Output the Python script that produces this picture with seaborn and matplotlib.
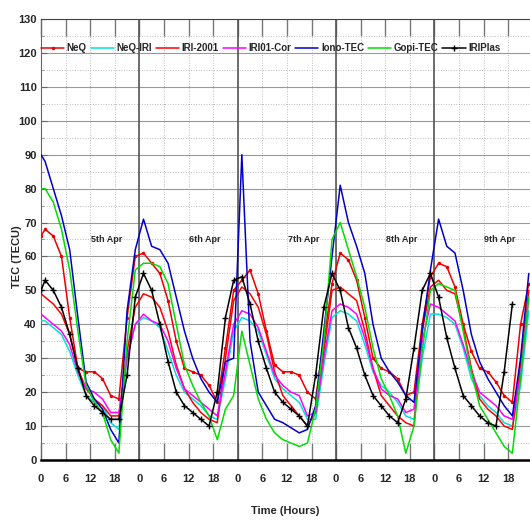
import numpy as np
import pandas as pd
import seaborn as sns
import matplotlib.pyplot as plt
from matplotlib.ticker import MultipleLocator, FixedLocator

# time axis: hour 0 then every odd hour, 5 days (5th - 9th Apr)
hours = [0] + list(range(1, 120, 2))

neq = [66, 68, 66, 60, 42, 27, 26, 26, 24, 19, 18, 42, 60,
       61, 58, 55, 47, 35, 27, 26, 25, 22, 17, 33, 50,
       53, 56, 49, 38, 28, 26, 26, 25, 20, 18, 35, 52,
       61, 59, 53, 42, 30, 27, 26, 24, 19, 20, 40, 54,
       58, 57, 51, 40, 32, 27, 26, 23, 19, 17, 40, 52]
neq_iri = [41, 41, 39, 37, 32, 25, 19, 17, 16, 11, 9, 30, 40,
           42, 41, 39, 32, 25, 20, 18, 16, 13, 12, 24, 38,
           42, 41, 38, 31, 24, 21, 19, 17, 12, 12, 28, 42,
           44, 43, 41, 34, 26, 22, 20, 17, 13, 12, 30, 43,
           43, 42, 40, 33, 24, 19, 16, 14, 11, 10, 22, 44]
iri_2001 = [49, 48, 46, 43, 37, 27, 21, 18, 16, 13, 13, 32, 45,
            49, 48, 45, 38, 28, 21, 17, 14, 12, 11, 30, 47,
            51, 49, 45, 37, 26, 19, 16, 13, 10, 14, 32, 50,
            51, 49, 47, 38, 27, 19, 16, 13, 11, 10, 38, 51,
            53, 50, 49, 39, 27, 18, 15, 13, 10, 9, 28, 50]
iri01_cor = [43, 42, 40, 38, 34, 26, 21, 20, 18, 14, 14, 30, 40,
             43, 41, 40, 35, 27, 21, 19, 17, 15, 13, 26, 40,
             44, 43, 39, 32, 25, 22, 20, 19, 13, 14, 30, 44,
             46, 45, 43, 36, 27, 21, 19, 18, 14, 15, 35, 46,
             45, 43, 41, 34, 26, 20, 18, 16, 13, 12, 25, 48]
iono_tec = [90, 88, 80, 72, 62, 42, 23, 18, 15, 9, 5, 44, 62,
            71, 63, 62, 58, 48, 38, 30, 24, 20, 17, 29, 30,
            90, 35, 20, 16, 12, 11, 9.5, 8, 9, 16, 38, 60,
            81, 70, 63, 55, 40, 30, 26, 23, 19, 17, 38, 56,
            71, 63, 61, 50, 37, 29, 24, 20, 16, 13, 30, 55]
gopi_tec = [80, 80, 76, 68, 56, 38, 22, 17, 14, 6, 2, 35, 56,
            58, 58, 57, 52, 40, 28, 22, 17, 13, 6, 15, 19,
            38, 28, 18, 12, 8, 6, 5, 4, 5, 15, 35, 65,
            70, 62, 54, 45, 33, 24, 19, 13, 2, 10, 32, 50,
            52, 51, 50, 38, 26, 16, 12, 8, 4, 2, 24, 48]
iriplas = [50, 53, 50, 45, 37, 27, 19, 16, 14, 12, 12, 25, 48,
           55, 50, 40, 29, 20, 16, 14, 12, 10, 20, 42, 53,
           54, 46, 35, 27, 20, 17, 15, 13, 10, 25, 45, 55,
           50, 39, 33, 25, 19, 16, 13, 11, 18, 33, 50, 55,
           48, 36, 27, 19, 16, 13, 11, 10, 26, 46, np.nan, np.nan]

day_labels = ['5th Apr', '6th Apr', '7th Apr', '8th Apr', '9th Apr']
x_tick_labels = ['0', '6', '12', '18'] * 5 + ['0']

series = [('NeQ', neq, '#ee0000', '.'),
          ('NeQ-IRI', neq_iri, '#00e0d8', None),
          ('IRI-2001', iri_2001, '#ff0000', None),
          ('IRI01-Cor', iri01_cor, '#ff00ff', None),
          ('Iono-TEC', iono_tec, '#0000cc', None),
          ('Gopi-TEC', gopi_tec, '#00dd00', None),
          ('IRIPlas', iriplas, 'black', '+')]

sns.set_style('white')
plt.rcParams['font.family'] = ['Liberation Sans Narrow', 'Liberation Sans', 'DejaVu Sans']
plt.rcParams['font.weight'] = 'bold'

fig = plt.figure(figsize=(5.3, 5.21), dpi=100)
ax = fig.add_axes([41 / 530, 61 / 521, 489 / 530, 441 / 521])

for name, vals, color, mk in series:
    d = pd.DataFrame({'hour': hours, 'tec': vals}).dropna()
    sns.lineplot(data=d, x='hour', y='tec', ax=ax, color=color, lw=1.1,
                 marker=mk, markersize=5 if mk == '+' else 3,
                 markeredgewidth=1.0, markeredgecolor=color,
                 label=name, zorder=4 if name == 'IRIPlas' else 3,
                 estimator=None, sort=False)

for d in range(1, 5):
    ax.axvline(24 * d, color='#555555', lw=1.2, zorder=2)

for i, lab in enumerate(day_labels):
    ax.text(24 * i + 16, 65, lab, fontsize=6.5, ha='center', va='center', zorder=5)

ax.set_xlim(0, 119.3)
ax.set_ylim(0, 130)
ax.xaxis.set_major_locator(FixedLocator(range(0, 121, 6)))
ax.set_xticklabels(x_tick_labels)
ax.yaxis.set_major_locator(MultipleLocator(10))
ax.yaxis.set_minor_locator(MultipleLocator(5))
ax.tick_params(axis='x', which='major', direction='in', length=12, width=1,
               top=True, bottom=True, labelsize=8, pad=10, color='#777777')
ax.tick_params(axis='y', which='major', direction='in', length=4, labelsize=8,
               left=True, pad=3, color='#666666')
ax.tick_params(axis='y', which='minor', direction='in', length=2, left=True,
               color='#888888')

ax.grid(True, axis='y', which='major', color='#999999', lw=0.8, ls='-')
ax.grid(True, axis='y', which='minor', color='#bbbbbb', lw=0.7, ls=':')
ax.grid(True, axis='x', which='major', color='#bbbbbb', lw=0.7, ls=':')
ax.set_axisbelow(True)

ax.spines['right'].set_visible(False)
ax.spines['top'].set_color('#444444')
ax.spines['left'].set_color('#666666')
ax.spines['bottom'].set_color('black')
ax.spines['bottom'].set_linewidth(1.8)

ax.set_xlabel('Time (Hours)', fontsize=8, fontweight='bold', labelpad=16)
ax.set_ylabel('TEC (TECU)', fontsize=8, fontweight='bold')
ax.yaxis.set_label_coords(-0.038, 0.46)

ax.legend(loc='center left', bbox_to_anchor=(0.0, 0.934), ncol=7, frameon=False,
          fontsize=7, handlelength=2.4, handletextpad=0.25, columnspacing=0.4,
          borderaxespad=0, borderpad=0)

fig.savefig('out.png', dpi=100)
